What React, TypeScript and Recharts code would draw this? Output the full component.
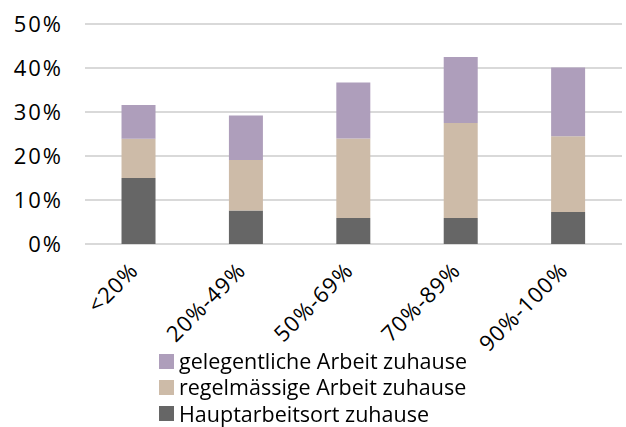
import { BarChart, Bar, XAxis, YAxis, CartesianGrid, Legend } from 'recharts';

const categories = ['<20%', '20%-49%', '50%-69%', '70%-89%', '90%-100%'];
const hauptarbeitsort = [15.0, 7.6, 5.9, 5.9, 7.3];
const regelmaessig = [8.9, 11.5, 18.1, 21.6, 17.2];
const gelegentlich = [7.7, 10.1, 12.7, 15.0, 15.6];
const yTicks = [0, 10, 20, 30, 40, 50];
const legendOrder = ['gelegentliche Arbeit zuhause', 'regelmässige Arbeit zuhause', 'Hauptarbeitsort zuhause'];

const data = categories.map((cat, i) => ({
  cat,
  haupt: hauptarbeitsort[i],
  regel: regelmaessig[i],
  gelegen: gelegentlich[i],
}));

const FONT = '"Open Sans", "Noto Sans", sans-serif';

const XTick = (props: any) => {
  const { x, y, payload } = props;
  const ax = x + 1;
  const ay = y + 20;
  return (
    <text
      x={ax}
      y={ay}
      transform={`rotate(-45, ${ax}, ${ay})`}
      textAnchor="end"
      fontSize={22}
      letterSpacing={1}
      fontFamily={FONT}
      fill="#000"
    >
      {payload.value}
    </text>
  );
};

const LegendContent = (props: any) => {
  const items = [...(props.payload || [])].sort(
    (a: any, b: any) => legendOrder.indexOf(a.value) - legendOrder.indexOf(b.value)
  );
  return (
    <div style={{ paddingLeft: 159, paddingTop: 1, fontFamily: FONT, fontSize: 21.5, lineHeight: '26px', color: '#000' }}>
      {items.map((it: any) => (
        <div key={it.value} style={{ display: 'flex', alignItems: 'center', height: 26.3 }}>
          <span style={{ width: 15, height: 15, background: it.color, marginRight: 5, display: 'inline-block' }} />
          <span>{it.value}</span>
        </div>
      ))}
    </div>
  );
};

export default function App() {
  return (
    <div style={{ position: 'fixed', left: 0, top: 0, background: '#fff' }}>
      <BarChart
        width={626}
        height={427}
        data={data}
        barCategoryGap="34%"
        margin={{ top: 24, right: 4, left: 0, bottom: 0 }}
      >
        <CartesianGrid vertical={false} stroke="#d9d9d9" strokeWidth={2} />
        <XAxis
          dataKey="cat"
          axisLine={false}
          tickLine={false}
          height={103}
          interval={0}
          tick={<XTick />}
        />
        <YAxis
          domain={[0, 50]}
          ticks={yTicks}
          tickFormatter={(v: number) => `${v}%`}
          axisLine={false}
          tickLine={false}
          tickSize={0}
          tickMargin={22}
          width={85}
          tick={{ fontSize: 22, fontFamily: FONT, fill: '#000', letterSpacing: 2 }}
        />
        <Legend
          verticalAlign="bottom"
          height={80}
          wrapperStyle={{ left: 0, width: 626 }}
          content={<LegendContent />}
        />
        <Bar dataKey="haupt" name="Hauptarbeitsort zuhause" stackId="a" fill="#666666" isAnimationActive={false} />
        <Bar dataKey="regel" name="regelmässige Arbeit zuhause" stackId="a" fill="#cdbba8" isAnimationActive={false} />
        <Bar dataKey="gelegen" name="gelegentliche Arbeit zuhause" stackId="a" fill="#ae9ebb" isAnimationActive={false} />
      </BarChart>
    </div>
  );
}
